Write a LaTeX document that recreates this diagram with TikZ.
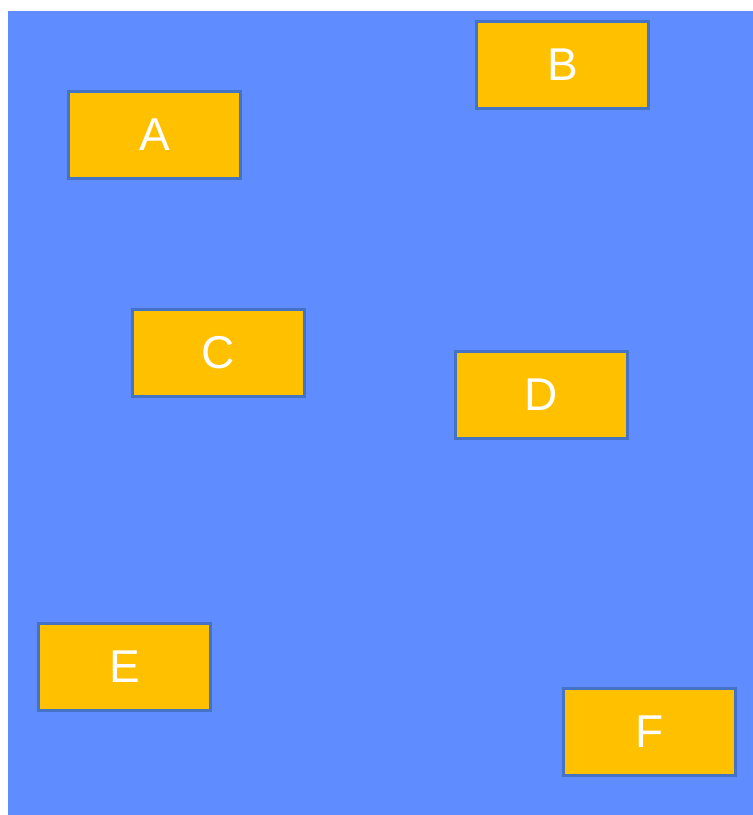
\documentclass[tikz,border=0pt]{standalone}
\usepackage{fontspec}
\setmainfont{Liberation Sans}
\definecolor{bgblue}{RGB}{95,141,255}
\definecolor{boxfill}{RGB}{255,192,0}
\definecolor{boxline}{RGB}{68,114,196}
\begin{document}
\begin{tikzpicture}[x=1pt,y=-1pt,
  boxnode/.style={draw=boxline, line width=3pt, fill=boxfill, minimum width=172pt, minimum height=87pt, inner sep=0pt, text=white, font=\fontsize{46}{46}\selectfont}]
\useasboundingbox (0,0) rectangle (753,815);
\fill[bgblue] (8,11) rectangle (753,815);
\node[boxnode] (A) at (154.5,135) {A};
\node[boxnode] (B) at (562.5,64.5) {B};
\node[boxnode] (C) at (218.5,353) {C};
\node[boxnode] (D) at (541.5,395) {D};
\node[boxnode] (E) at (124.5,667) {E};
\node[boxnode] (F) at (649.5,732) {F};
\end{tikzpicture}
\end{document}
